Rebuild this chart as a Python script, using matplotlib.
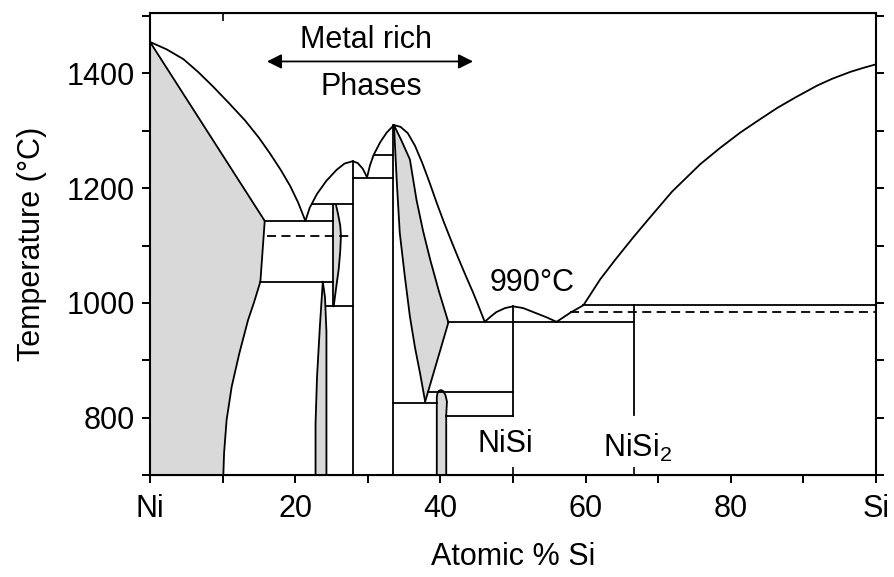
import numpy as np
import matplotlib.pyplot as plt

plt.rcParams['font.family'] = ['Liberation Sans', 'DejaVu Sans']
plt.rcParams['mathtext.fontset'] = 'custom'
plt.rcParams['mathtext.rm'] = 'Liberation Sans'
plt.rcParams['mathtext.it'] = 'Liberation Sans'

# composition in at.% Si, temperature in degC
# Ni-rich side: liquidus, solidus and (Ni) solvus
liq_ni_x = [0, 2.3, 4.6, 6.6, 8.7, 10.9, 13.1, 15.0, 16.5, 18.0, 19.3, 20.4, 21.4]
liq_ni_t = [1455, 1442, 1425, 1403, 1377, 1348, 1318, 1288, 1261, 1232, 1204, 1175, 1143]
sol_ni_x = [0, 15.8]
sol_ni_t = [1455, 1143]
solv_ni_x = [15.8, 15.2, 14.3, 13.5, 12.3, 11.25, 10.55, 10.2, 10.1]
solv_ni_t = [1143, 1037, 1000, 970, 912, 854, 796, 738, 700]

# beta (Ni3Si) slivers
beta1_l_x = [23.8, 23.4, 23.0, 22.8, 22.8]
beta1_l_t = [1037, 960, 870, 790, 700]
beta1_r_x = [23.8, 24.1, 24.3, 24.3]
beta1_r_t = [1037, 1010, 950, 700]
beta3_l_x = [25.2, 25.2]
beta3_l_t = [1172, 994]
beta3_r_x = [25.6, 25.9, 26.2, 26.3, 26.2, 26.0, 25.6, 25.3]
beta3_r_t = [1172, 1155, 1135, 1117, 1090, 1060, 1023, 994]

# liquidus over gamma (Ni31Si12) and delta/theta (Ni2Si)
liq_g_x = [21.4, 22.0, 23.0, 24.3, 25.7, 26.8, 27.9, 28.6, 29.3, 29.9]
liq_g_t = [1143, 1166, 1190, 1213, 1232, 1243, 1247, 1244, 1234, 1219]
liq_d_x = [29.9, 30.3, 30.8, 31.7, 32.6, 33.6]
liq_d_t = [1219, 1240, 1258, 1280, 1297, 1310]
liq_dr_x = [33.6, 34.5, 35.5, 36.5, 37.5, 38.5, 39.5, 40.5, 41.5, 42.5, 43.5, 44.5, 45.3, 46.1]
liq_dr_t = [1310, 1307, 1296, 1274, 1244, 1210, 1174, 1140, 1108, 1077, 1047, 1018, 993, 967]

# theta field
theta_l_x = [33.6, 34.0, 34.4, 35.1, 35.8, 36.5, 37.2, 37.9]
theta_l_t = [1310, 1209, 1122, 1046, 976, 922, 877, 828]
theta_r_x = [33.6, 34.6, 35.8, 36.7, 37.6, 38.6, 39.8, 41.1, 37.9]
theta_r_t = [1310, 1284, 1250, 1180, 1126, 1075, 1020, 966, 828]

# epsilon (Ni3Si2) sliver
eps_x = [39.5, 39.5, 39.6, 39.8, 40.1, 40.4, 40.7, 40.9, 40.8, 40.8]
eps_t = [700, 836, 843, 847, 848, 846, 839, 828, 805, 700]

# NiSi dome and Si-rich liquidus
nisi_x = [46.1, 47.0, 47.7, 48.9, 50.0, 51.4, 52.8, 54.6, 56.0]
nisi_t = [967, 977, 984, 991, 994, 991, 984, 975, 967]
liq_si_x = [56.0, 57.9, 59.7, 62.0, 64.0, 66.6, 69.0, 71.9, 75.8, 78.5,
            81.3, 84.0, 86.4, 89.0, 91.9, 94.0, 96.5, 98.3, 100]
liq_si_t = [967, 983, 996, 1041, 1074, 1115, 1151, 1194, 1242, 1270,
            1297, 1320, 1340, 1359, 1379, 1391, 1403, 1410, 1416]

# invariant lines: (x_start, x_end, T)
hlines = [
    (15.8, 25.2, 1143), (15.2, 25.2, 1037), (22.25, 27.9, 1172),
    (24.3, 27.9, 994), (27.9, 33.4, 1218), (30.8, 33.4, 1258),
    (33.4, 39.5, 825), (38.3, 50.0, 845), (40.8, 50.0, 803),
    (41.1, 66.7, 967), (59.7, 100, 996),
]
dashed = [(16.1, 27.9, 1117), (57.9, 100, 985)]
# compound lines: (x, T_top, T_bottom)
vlines = [(27.9, 1247, 700), (33.4, 1310, 700), (50.0, 994, 803), (66.7, 996, 805)]

gray = '#d9d9d9'
lw = 1.3

fig = plt.figure(figsize=(8.94, 5.77), dpi=100)
ax = fig.add_axes([0.1678, 0.1768, 0.8121, 0.8002])

# shaded single-phase fields
ax.fill(np.r_[0, sol_ni_x, solv_ni_x[1:], 0], np.r_[700, sol_ni_t, solv_ni_t[1:], 700],
        color=gray, lw=0)
ax.fill(np.r_[beta1_l_x, beta1_r_x[::-1]], np.r_[beta1_l_t, beta1_r_t[::-1]], color=gray, lw=0)
ax.fill(np.r_[beta3_l_x, beta3_r_x[::-1]], np.r_[beta3_l_t, beta3_r_t[::-1]], color=gray, lw=0)
ax.fill(np.r_[theta_l_x, theta_r_x[::-1]], np.r_[theta_l_t, theta_r_t[::-1]], color=gray, lw=0)
ax.fill(eps_x, eps_t, color=gray, lw=0)

for xs, ts in [(liq_ni_x, liq_ni_t), (sol_ni_x, sol_ni_t), (solv_ni_x, solv_ni_t),
               (beta1_l_x, beta1_l_t), (beta1_r_x, beta1_r_t),
               (beta3_l_x, beta3_l_t), (beta3_r_x, beta3_r_t),
               (liq_g_x, liq_g_t), (liq_d_x, liq_d_t), (liq_dr_x, liq_dr_t),
               (theta_l_x, theta_l_t), (theta_r_x, theta_r_t), (eps_x, eps_t),
               (nisi_x, nisi_t), (liq_si_x, liq_si_t)]:
    ax.plot(xs, ts, color='black', lw=lw, solid_joinstyle='round', solid_capstyle='round')

for x0, x1, t in hlines:
    ax.plot([x0, x1], [t, t], color='black', lw=lw)
for x0, x1, t in dashed:
    ax.plot([x0, x1], [t, t], color='black', lw=lw, dashes=(5, 3))
for x, t0, t1 in vlines:
    ax.plot([x, x], [t0, t1], color='black', lw=lw)

ax.annotate('', xy=(44.5, 1421), xytext=(16.1, 1421),
            arrowprops=dict(arrowstyle='<|-|>', color='black', lw=1.3,
                            mutation_scale=22, shrinkA=0, shrinkB=0))
ax.text(29.8, 1459, 'Metal rich', fontsize=22, ha='center', va='center')
ax.text(30.5, 1377, 'Phases', fontsize=22, ha='center', va='center')
ax.text(52.7, 1034, '990°C', fontsize=22, ha='center', va='center')
ax.text(48.9, 754, 'NiSi', fontsize=22, ha='center', va='center')
ax.text(67.1, 748, 'NiSi$_2$', fontsize=22, ha='center', va='center')

ax.set_xlim(0, 100)
ax.set_ylim(700, 1505)
ax.set_xticks(np.arange(0, 101, 10))
ax.set_xticklabels(['Ni', '', '20', '', '40', '', '60', '', '80', '', 'Si'])
ax.set_yticks(np.arange(700, 1501, 100))
ax.set_yticklabels(['', '800', '', '1000', '', '1200', '', '1400', ''])
ax.tick_params(axis='both', direction='out', length=6, width=1.4, labelsize=22)
ax.tick_params(axis='x', pad=8)
ax.tick_params(axis='y', right=True, pad=5)
for s in ax.spines.values():
    s.set_linewidth(1.5)

# compound markers on the composition axis and a single top tick
sec = ax.secondary_xaxis('bottom')
sec.set_xticks([50, 66.7])
sec.tick_params(direction='in', length=6, width=1.2, labelbottom=False)
top = ax.secondary_xaxis('top')
top.set_xticks([10])
top.tick_params(direction='in', length=6, width=1.2, labeltop=False)

ax.set_xlabel('Atomic % Si', fontsize=22, labelpad=13)
ax.set_ylabel('Temperature (°C)', fontsize=22, labelpad=14)

fig.savefig('out.png', dpi=100)
